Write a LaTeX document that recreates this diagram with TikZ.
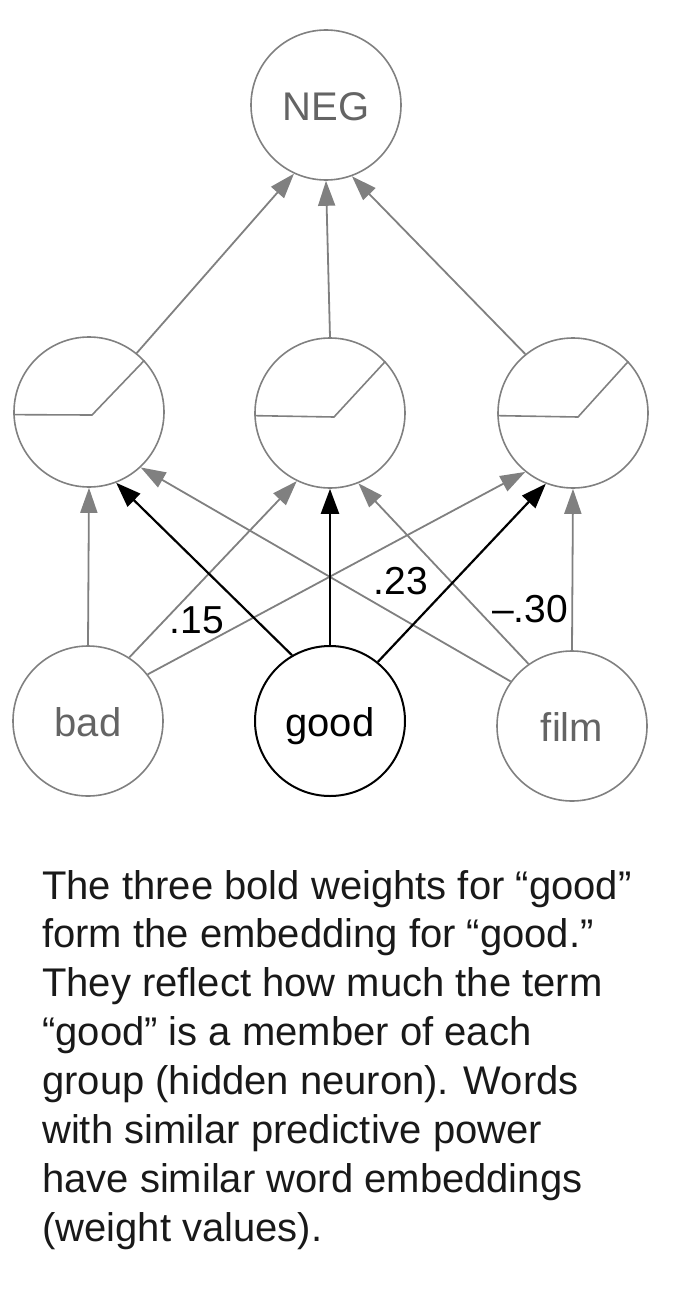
\documentclass[tikz,border=0pt]{standalone}
\usepackage{fontspec}
\setmainfont{Liberation Sans}
\usetikzlibrary{arrows.meta}
\definecolor{edgegray}{RGB}{128,128,128}
\definecolor{labgray}{RGB}{100,100,100}
\newcommand{\lowtext}[1]{\raisebox{-15pt}[0pt][0pt]{#1}}
\begin{document}
\begin{tikzpicture}[x=1pt,y=-1pt,
  neuron/.style={circle, draw=edgegray, line width=1.6pt, minimum size=150pt, inner sep=0pt, font=\fontsize{40}{40}\selectfont},
  gedge/.style={draw=edgegray, line width=1.8pt, -{Triangle[length=25pt,width=17pt]}},
  bedge/.style={draw=black, line width=2.2pt, -{Triangle[length=25pt,width=18pt]}},
  wlabel/.style={font=\fontsize{39}{39}\selectfont, inner sep=0pt},
  relu/.style={draw=edgegray, line width=1.6pt}]
\useasboundingbox (0,0) rectangle (676,1290);
% nodes
\node[neuron, text=labgray] (neg) at (326,105) {\lowtext{NEG}};
\node[neuron] (h1) at (89,412) {};
\node[neuron] (h2) at (330,413) {};
\node[neuron] (h3) at (573,413) {};
\node[neuron, text=labgray] (bad) at (88,721) {\lowtext{bad}};
\node[neuron, draw=black, line width=2pt, text=black] (good) at (330,721) {\lowtext{good}};
\node[neuron, text=labgray] (film) at (572,726) {\lowtext{film}};
% relu glyphs
\draw[relu] (h1.182) -- ([xshift=3pt,yshift=-3pt]h1.center) -- (h1.43);
\draw[relu] (h2.182) -- ([xshift=4pt,yshift=-4pt]h2.center) -- (h2.43);
\draw[relu] (h3.182) -- ([xshift=5pt,yshift=-4pt]h3.center) -- (h3.43);
% grey edges input -> hidden
\draw[gedge] (bad.90) -- (h1.270);
\draw[gedge] (bad.57) -- (h2.244);
\draw[gedge] (bad.38) -- (h3.231);
\draw[gedge] (film.144) -- (h1.313);
\draw[gedge] (film.125) -- (h2.292);
\draw[gedge] (film.90) -- (h3.270);
% hidden -> output
\draw[gedge] (h1.51) -- (neg.245);
\draw[gedge] (h2.90) -- (neg.270);
\draw[gedge] (h3.129) -- (neg.290);
% black edges from good
\draw[bedge] (good.120) -- (h1.291);
\draw[bedge] (good.90) -- (h2.270);
\draw[bedge] (good.51) -- (h3.249);
% weight labels
\node[wlabel] (w1) at (197,620) {.15};
\node[wlabel] (w2) at (401,581) {.23};
\node[wlabel] (w3) at (530,609) {\textendash.30};
% caption
\node[anchor=base west, align=left, inner sep=0pt, text=black!90,
      font=\fontsize{40}{48.85}\selectfont] (cap) at (42,1241)
  {The three bold weights for “good”\\
   form the embedding for “good.”\\
   They reflect how much the term\\
   “good” is a member of each\\
   group (hidden neuron). Words\\
   with similar predictive power\\
   have similar word embeddings\\
   (weight values).};
\end{tikzpicture}
\end{document}
